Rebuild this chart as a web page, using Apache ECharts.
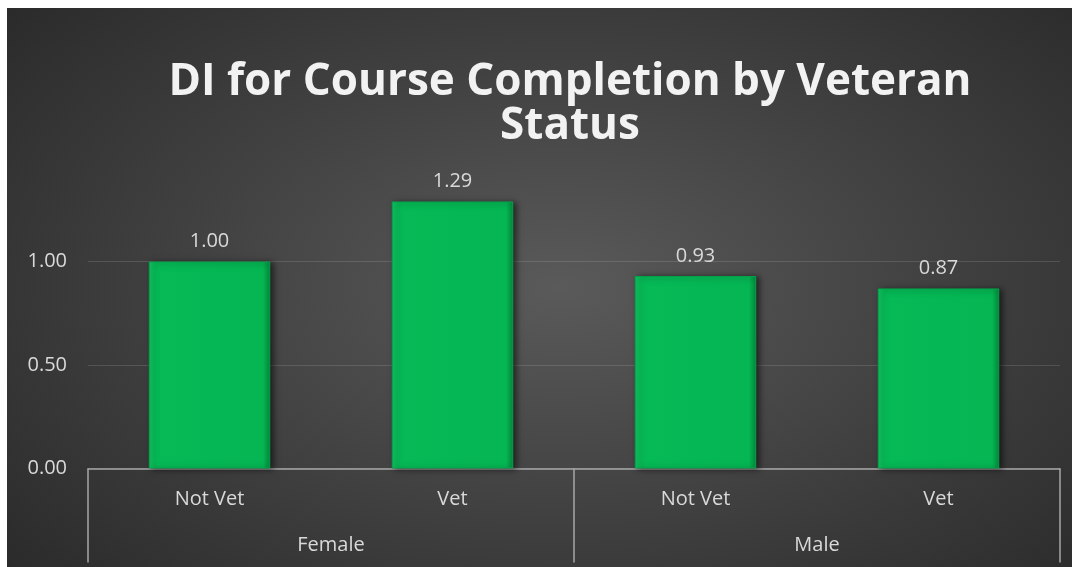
<!DOCTYPE html>
<html>
<head>
<meta charset="utf-8">
<script src="https://cdn.jsdelivr.net/npm/echarts@6/dist/echarts.min.js"></script>
<style>
  html, body { margin: 0; padding: 0; background: #fff; }
  #chart {
    position: absolute; left: 7px; top: 8px; width: 1065px; height: 559px;
    background: radial-gradient(ellipse 75% 85% at 52% 50%, #5a5a5a 0%, #424242 45%, #262626 100%);
  }
</style>
</head>
<body>
<div id="chart"></div>
<script>
// chart data
var titleText = 'DI for Course Completion by Veteran\nStatus';
var categories = ['Not Vet', 'Vet', 'Not Vet', 'Vet'];
var groups = ['Female', 'Male'];
var values = [1.00, 1.29, 0.93, 0.87];

var chart = echarts.init(document.getElementById('chart'));
var txt = '#d9d9d9';
var font = 'Open Sans, sans-serif';

chart.setOption({
  backgroundColor: 'transparent',
  animation: false,
  title: {
    text: titleText,
    left: 558,
    top: 47,
    textAlign: 'center',
    textStyle: {
      color: '#f2f2f2', fontSize: 44, fontWeight: 'bold',
      fontFamily: font, lineHeight: 44
    }
  },
  grid: { left: 81, right: 12, top: 170.7, bottom: 98.5 },
  xAxis: [{
    type: 'category',
    data: categories,
    axisLine: { show: true, lineStyle: { color: '#a6a6a6', width: 1.5 } },
    axisTick: { show: false },
    axisLabel: { color: txt, fontSize: 20, fontFamily: font, margin: 21 }
  }, {
    type: 'category',
    data: groups,
    position: 'bottom',
    axisLine: { show: false },
    axisTick: { show: true, length: 94, interval: 0, lineStyle: { color: '#a6a6a6', width: 1.5 } },
    axisLabel: { color: txt, fontSize: 20, fontFamily: font, margin: 67 }
  }],
  yAxis: {
    type: 'value',
    min: 0,
    max: 1.4,
    interval: 0.5,
    axisLine: { show: false },
    axisTick: { show: false },
    axisLabel: {
      color: txt, fontSize: 20, fontFamily: font, margin: 21,
      showMaxLabel: false,
      formatter: function (v) { return v.toFixed(2); }
    },
    splitLine: { show: true, showMaxLine: false, lineStyle: { color: 'rgba(255,255,255,0.13)', width: 1 } }
  },
  series: [{
    type: 'bar',
    data: values,
    barWidth: '50%',
    itemStyle: {
      color: {
        type: 'linear', x: 0, y: 0, x2: 1, y2: 0,
        colorStops: [
          { offset: 0, color: '#12c463' },
          { offset: 0.06, color: '#06ba56' },
          { offset: 0.94, color: '#05b653' },
          { offset: 1, color: '#038a3c' }
        ]
      },
      borderColor: '#04a34a',
      borderWidth: 1,
      shadowColor: 'rgba(0,0,0,0.55)',
      shadowBlur: 6,
      shadowOffsetX: 3,
      shadowOffsetY: 1
    },
    label: {
      show: true, position: 'top', distance: 10,
      color: txt, fontSize: 20, fontFamily: font,
      formatter: function (p) { return p.value.toFixed(2); }
    }
  }]
});
</script>
</body>
</html>
